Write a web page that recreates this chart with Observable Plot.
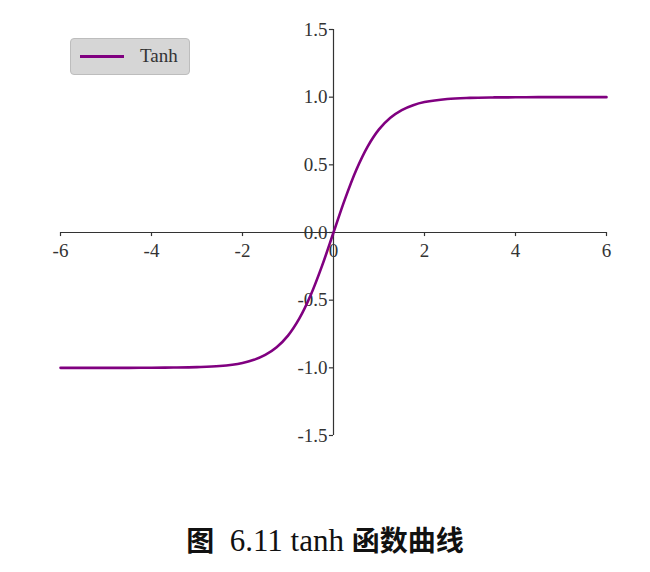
<!DOCTYPE html>
<html>
<head>
<meta charset="utf-8">
<script src="https://cdn.jsdelivr.net/npm/d3@7"></script>
<script src="https://cdn.jsdelivr.net/npm/@observablehq/plot@0.6"></script>
<style>
  body { margin: 0; background: #fff; }
  #wrap { position: relative; width: 650px; height: 572px; }
  #legend {
    position: absolute; left: 70px; top: 38px; width: 120px; height: 37px;
    background: #d6d6d6; border: 1px solid #bdbdbd; border-radius: 4px; box-sizing: border-box;
    font-family: "Liberation Serif", "DejaVu Serif", serif; font-size: 19px; color: #333;
  }
  #legend .sw { position: absolute; left: 9px; top: 16px; width: 44px; height: 3px; background: #800080; }
  #legend .lb { position: absolute; left: 69px; top: 6px; }
  #caption {
    position: absolute; left: 0; top: 519px; width: 650px; text-align: center;
    font-family: "Liberation Serif", serif; font-size: 31px; color: #111;
  }
  #caption .cjk { font-family: "Noto Sans CJK SC", sans-serif; font-weight: bold; font-size: 28px; }
</style>
</head>
<body>
<div id="wrap">
  <div id="chart"></div>
  <div id="legend"><div class="sw"></div><div class="lb">Tanh</div></div>
  <div id="caption"><span class="cjk">图</span>&nbsp; 6.11 tanh <span class="cjk">函数曲线</span></div>
</div>
<script>
const seriesName = "Tanh";
const xs = [-6, -5.5, -5, -4.5, -4, -3.5, -3, -2.5, -2, -1.75, -1.5, -1.25, -1, -0.75, -0.5, -0.25, 0,
            0.25, 0.5, 0.75, 1, 1.25, 1.5, 1.75, 2, 2.5, 3, 3.5, 4, 4.5, 5, 5.5, 6];
const ys = [-1.000, -1.000, -1.000, -1.000, -0.999, -0.998, -0.995, -0.987, -0.964, -0.941, -0.905, -0.848, -0.762, -0.635, -0.462, -0.245, 0,
            0.245, 0.462, 0.635, 0.762, 0.848, 0.905, 0.941, 0.964, 0.987, 0.995, 0.998, 0.999, 1.000, 1.000, 1.000, 1.000];
const xTicks = [-6, -4, -2, 0, 2, 4, 6];
const yTicks = [-1.5, -1.0, -0.5, 0.0, 0.5, 1.0, 1.5];

const data = xs.map((x, i) => ({x, y: ys[i]}));
const font = "'Liberation Serif', 'DejaVu Serif', serif";

const chart = Plot.plot({
  width: 650,
  height: 480,
  marginLeft: 60,
  marginRight: 44,
  marginTop: 29,
  marginBottom: 45,
  x: {domain: [-6, 6], axis: null},
  y: {domain: [-1.5, 1.5], axis: null},
  style: {fontFamily: font, background: "white"},
  marks: [
    Plot.ruleY([0], {x1: -6, x2: 6, stroke: "#333", strokeWidth: 1.2}),
    Plot.ruleX([0], {y1: -1.5, y2: 1.5, stroke: "#333", strokeWidth: 1.2}),
    Plot.ruleX(xTicks, {x: d => d, y1: 0, y2: -0.03, stroke: "#333", strokeWidth: 1.2}),
    Plot.text(xTicks, {x: d => d, y: 0, text: d => String(d), dy: 18, fontSize: 19, fill: "#333"}),
    Plot.ruleY(yTicks, {y: d => d, x1: 0, x2: -0.09, stroke: "#333", strokeWidth: 1.2}),
    Plot.text(yTicks, {x: 0, y: d => d, text: d => d.toFixed(1), dx: -6, textAnchor: "end", fontSize: 19, fill: "#333"}),
    Plot.line(data, {x: "x", y: "y", stroke: "#800080", strokeWidth: 2.6, curve: "catmull-rom"})
  ]
});
document.getElementById("chart").appendChild(chart);
</script>
</body>
</html>
